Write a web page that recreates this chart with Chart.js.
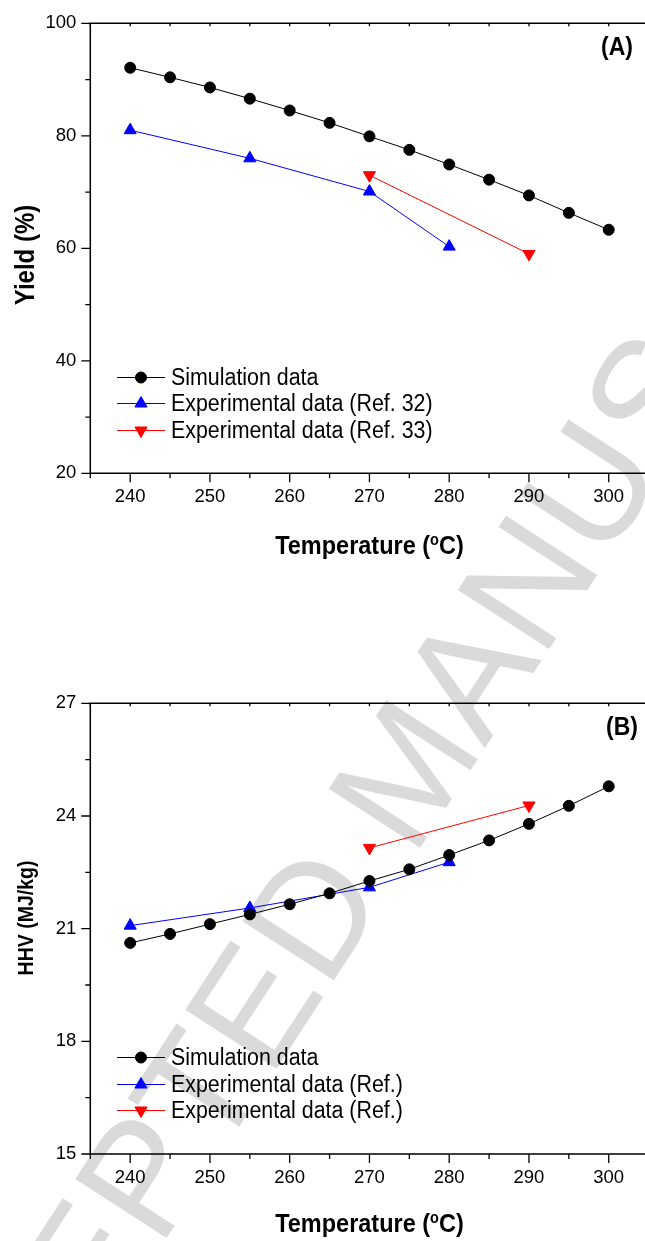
<!DOCTYPE html>
<html><head><meta charset="utf-8">
<script src="https://cdn.jsdelivr.net/npm/chart.js@4.4.1/dist/chart.umd.min.js"></script>
<style>
html,body{margin:0;padding:0;background:#fff;overflow:hidden;width:645px;height:1241px;position:relative}
#wm{position:absolute;left:405px;top:770px;transform:translate(-50%,-50%) rotate(-57deg);font:158px 'Liberation Sans',Arial,sans-serif;color:#dadada;white-space:nowrap;z-index:0;line-height:1}
canvas{position:absolute;left:0;z-index:1}
#cA{top:0}
#cB{top:680px}
</style></head>
<body>
<div id="wm">ACCEPTED MANUSCRIPT</div>
<canvas id="cA" width="700" height="600"></canvas>
<canvas id="cB" width="700" height="561"></canvas>
<script>
// ---- data ----
const tempSim = [240,245,250,255,260,265,270,275,280,285,290,295,300];
const yieldSim = [92.1,90.4,88.6,86.6,84.5,82.3,79.9,77.5,74.9,72.2,69.4,66.3,63.3];
const tempExp32 = [240,255,270,280];
const yieldExp32 = [81.0,76.0,70.1,60.3];
const tempExp33 = [270,290];
const yieldExp33 = [73.0,59.0];
const hhvSim = [20.62,20.86,21.12,21.38,21.65,21.94,22.27,22.58,22.96,23.35,23.79,24.27,24.79];
const tempExpB1 = [240,255,270,280];
const hhvExpB1 = [21.08,21.55,22.10,22.77];
const tempExpB2 = [270,290];
const hhvExpB2 = [23.15,24.28];
const labelsA = ['Simulation data','Experimental data (Ref. 32)','Experimental data (Ref. 33)'];
const labelsB = ['Simulation data','Experimental data (Ref.)','Experimental data (Ref.)'];
const xRange = [235,305];
const yRangeA = [20,100];
const yRangeB = [15,27];

const FAM = "'Liberation Sans', Arial, Helvetica, sans-serif";

function ds(label, xs, ys, color, style, rot, r){
  return {label, data: xs.map((x,i)=>({x, y: ys[i]})), borderColor: color, backgroundColor: color,
    borderWidth: 1, pointStyle: style, rotation: rot, pointRotation: rot, pointRadius: r, pointBorderWidth: 1,
    pointBorderColor: color, pointBackgroundColor: color, showLine: true, tension: 0, fill: false};
}

function stretchedText(ctx, txt, x, y, sy){
  ctx.save();
  ctx.translate(x, y);
  ctx.scale(1, sy);
  ctx.fillText(txt, 0, 0);
  ctx.restore();
}

const deco = {
  id: 'deco',
  afterDraw(chart, args, o){
    const ctx = chart.ctx, a = chart.chartArea, xs = chart.scales.x, ys = chart.scales.y;
    ctx.save();
    ctx.strokeStyle = '#000';
    ctx.lineWidth = 1.5;
    ctx.beginPath();
    ctx.moveTo(a.left - 0.75, a.bottom); ctx.lineTo(chart.width, a.bottom);
    ctx.moveTo(a.left - 0.75, a.top); ctx.lineTo(chart.width, a.top);
    ctx.moveTo(a.left, a.top); ctx.lineTo(a.left, a.bottom);
    ctx.stroke();
    ctx.lineWidth = 1.3;
    ctx.beginPath();
    xs.ticks.forEach(t => {
      const v = t.value, p = xs.getPixelForValue(v);
      const major = Math.abs(v % 10) < 1e-9;
      ctx.moveTo(p, a.bottom); ctx.lineTo(p, a.bottom + (major ? 9 : 5));
      ctx.moveTo(p, a.top); ctx.lineTo(p, a.top + 3);
    });
    ys.ticks.forEach(t => {
      const v = t.value, p = ys.getPixelForValue(v);
      const major = Math.abs(v % o.yMajor) < 1e-9;
      ctx.moveTo(a.left, p); ctx.lineTo(a.left - (major ? 9 : 5), p);
    });
    ctx.stroke();
    ctx.restore();

    // legend
    chart.data.datasets.forEach((d, i) => {
      const y = Math.round(a.bottom - 96.8 + i * 26.5) + 0.5;
      ctx.save();
      ctx.strokeStyle = d.borderColor; ctx.lineWidth = 1;
      ctx.beginPath(); ctx.moveTo(a.left + 26.7, y); ctx.lineTo(a.left + 74.7, y); ctx.stroke();
      ctx.restore();
      ctx.save();
      ctx.fillStyle = d.backgroundColor; ctx.strokeStyle = d.borderColor; ctx.lineWidth = 1;
      Chart.helpers.drawPoint(ctx, {pointStyle: d.pointStyle, rotation: d.pointRotation, radius: d.pointRadius, borderWidth: 1}, a.left + 50.7, y);
      ctx.restore();
      ctx.save();
      ctx.fillStyle = '#000';
      ctx.font = '21.4px ' + FAM;
      ctx.textAlign = 'left'; ctx.textBaseline = 'middle';
      stretchedText(ctx, o.legend[i], a.left + 80.7, y + 1, 1.1);
      ctx.restore();
    });

    ctx.save();
    // panel label
    ctx.fillStyle = '#000';
    ctx.font = 'bold 23px ' + FAM;
    ctx.textAlign = 'right'; ctx.textBaseline = 'middle';
    stretchedText(ctx, o.panel, o.panelRight, a.top + 25, 1.12);

    // x title with superscript o
    const big = 'bold 23.5px ' + FAM, small = 'bold 14.5px ' + FAM;
    const p1 = 'Temperature (', p2 = 'o', p3 = 'C)';
    ctx.font = big; const w1 = ctx.measureText(p1).width, w3 = ctx.measureText(p3).width;
    ctx.font = small; const w2 = ctx.measureText(p2).width;
    let x0 = (a.left + a.right) / 2 - (w1 + w2 + w3) / 2;
    ctx.textAlign = 'left'; ctx.textBaseline = 'middle';
    ctx.font = big; stretchedText(ctx, p1, x0, o.xTitleY, 1.1);
    ctx.font = small; stretchedText(ctx, p2, x0 + w1, o.xTitleY - 6.5, 1.1);
    ctx.font = big; stretchedText(ctx, p3, x0 + w1 + w2, o.xTitleY, 1.1);

    // y title
    ctx.translate(27, o.yTitleY);
    ctx.rotate(-Math.PI / 2);
    ctx.scale(1, 1.12);
    ctx.font = 'bold ' + o.yTitleSize + 'px ' + FAM;
    ctx.textAlign = 'center'; ctx.textBaseline = 'middle';
    ctx.fillText(o.yTitle, 0, 0);
    ctx.restore();
  }
};

function make(id, datasets, yr, yStep, yMajor, bottomPx, decoOpts){
  const cv = document.getElementById(id);
  const W = cv.width, H = cv.height;
  return new Chart(cv, {
    type: 'scatter',
    data: {datasets},
    options: {
      responsive: false, animation: false, devicePixelRatio: 1,
      layout: {padding: {left: 0, right: W - 648.6, top: 23.3, bottom: 0}},
      plugins: {legend: {display: false}, tooltip: {enabled: false}, deco: decoOpts},
      scales: {
        x: {type: 'linear', min: xRange[0], max: xRange[1],
            ticks: {stepSize: 5, autoSkip: false, maxRotation: 0, padding: 4, color: '#000',
                    font: {size: 18.5, family: FAM}, callback: v => (Math.abs(v % 10) < 1e-9 ? String(v) : '')},
            grid: {display: true, drawOnChartArea: false, drawTicks: true, tickLength: 9, color: 'rgba(0,0,0,0)'},
            border: {display: false},
            afterFit: s => { s.height = H - bottomPx; }},
        y: {type: 'linear', min: yr[0], max: yr[1],
            ticks: {stepSize: yStep, autoSkip: false, padding: 5, color: '#000',
                    font: {size: 18.5, family: FAM}, callback: v => (Math.abs(v % yMajor) < 1e-9 ? String(v) : '')},
            grid: {display: true, drawOnChartArea: false, drawTicks: true, tickLength: 9, color: 'rgba(0,0,0,0)'},
            border: {display: false},
            afterFit: s => { s.width = 90.3; }}
      }
    },
    plugins: [deco]
  });
}

make('cA', [
  ds('Simulation data', tempSim, yieldSim, '#000000', 'circle', 0, 5.5),
  ds('Experimental data (Ref. 32)', tempExp32, yieldExp32, '#0000ff', 'triangle', 0, 7),
  ds('Experimental data (Ref. 33)', tempExp33, yieldExp33, '#ff0000', 'triangle', 180, 7)
], yRangeA, 10, 20, 473.3, {legend: labelsA, panel: '(A)', panelRight: 633, xTitleY: 546.7, yTitle: 'Yield (%)', yTitleY: 255, yTitleSize: 24, yMajor: 20});

make('cB', [
  ds('Simulation data', tempSim, hhvSim, '#000000', 'circle', 0, 5.5),
  ds('Experimental data (Ref.)', tempExpB1, hhvExpB1, '#0000ff', 'triangle', 0, 7),
  ds('Experimental data (Ref.)', tempExpB2, hhvExpB2, '#ff0000', 'triangle', 180, 7)
], yRangeB, 1.5, 3, 474, {legend: labelsB, panel: '(B)', panelRight: 638, xTitleY: 545, yTitle: 'HHV (MJ/kg)', yTitleY: 918 - 680, yTitleSize: 19.5, yMajor: 3});
</script>
</body></html>
